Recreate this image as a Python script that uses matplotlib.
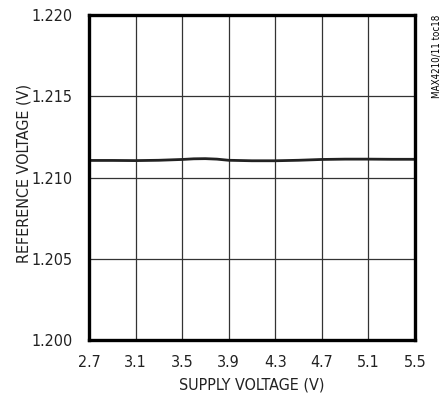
import numpy as np
import matplotlib
matplotlib.use('Agg')
import matplotlib.pyplot as plt

plt.rcParams['font.family'] = ['DejaVu Sans']
plt.rcParams['font.stretch'] = 'condensed'

## data
supply_v = [2.7, 2.9, 3.1, 3.3, 3.5, 3.6, 3.7, 3.8, 3.9, 4.1, 4.3, 4.5, 4.7, 4.9, 5.1, 5.3, 5.5]
ref_v = [1.21105, 1.21105, 1.21104, 1.21106, 1.21111, 1.21115, 1.21116, 1.21113, 1.21106, 1.21103, 1.21103, 1.21106, 1.21111, 1.21113, 1.21113, 1.21112, 1.21112]

x_ticks = [2.7, 3.1, 3.5, 3.9, 4.3, 4.7, 5.1, 5.5]
y_ticks = [1.200, 1.205, 1.210, 1.215, 1.220]

fig = plt.figure(figsize=(4.47, 4.0), dpi=100)
ax = fig.add_axes([0.199, 0.15, 0.729, 0.8125])

ax.plot(supply_v, ref_v, color='#222222', lw=2.0)

ax.set_xlim(2.7, 5.5)
ax.set_ylim(1.200, 1.220)
ax.set_xticks(x_ticks)
ax.set_xticklabels(['%.1f' % v for v in x_ticks])
ax.set_yticks(y_ticks)
ax.set_yticklabels(['%.3f' % v for v in y_ticks])
ax.grid(True, color='#333333', lw=0.9)
ax.set_axisbelow(True)
ax.tick_params(length=0, labelsize=11.5, labelcolor='#222222')
ax.tick_params(axis='y', pad=12)
ax.tick_params(axis='x', pad=11)

for s in ax.spines.values():
    s.set_linewidth(2.4)

ax.set_xlabel('SUPPLY VOLTAGE (V)', fontsize=11.5, color='#222222')
ax.set_ylabel('REFERENCE VOLTAGE (V)', fontsize=11.5, color='#222222')
ax.xaxis.set_label_coords(0.5, -0.114)
ax.yaxis.set_label_coords(-0.176, 0.514)

fig.text(0.978, 0.9625, 'MAX4210/11 toc18', rotation=90, fontsize=7,
         ha='center', va='top')

fig.savefig('out.png', dpi=100)
